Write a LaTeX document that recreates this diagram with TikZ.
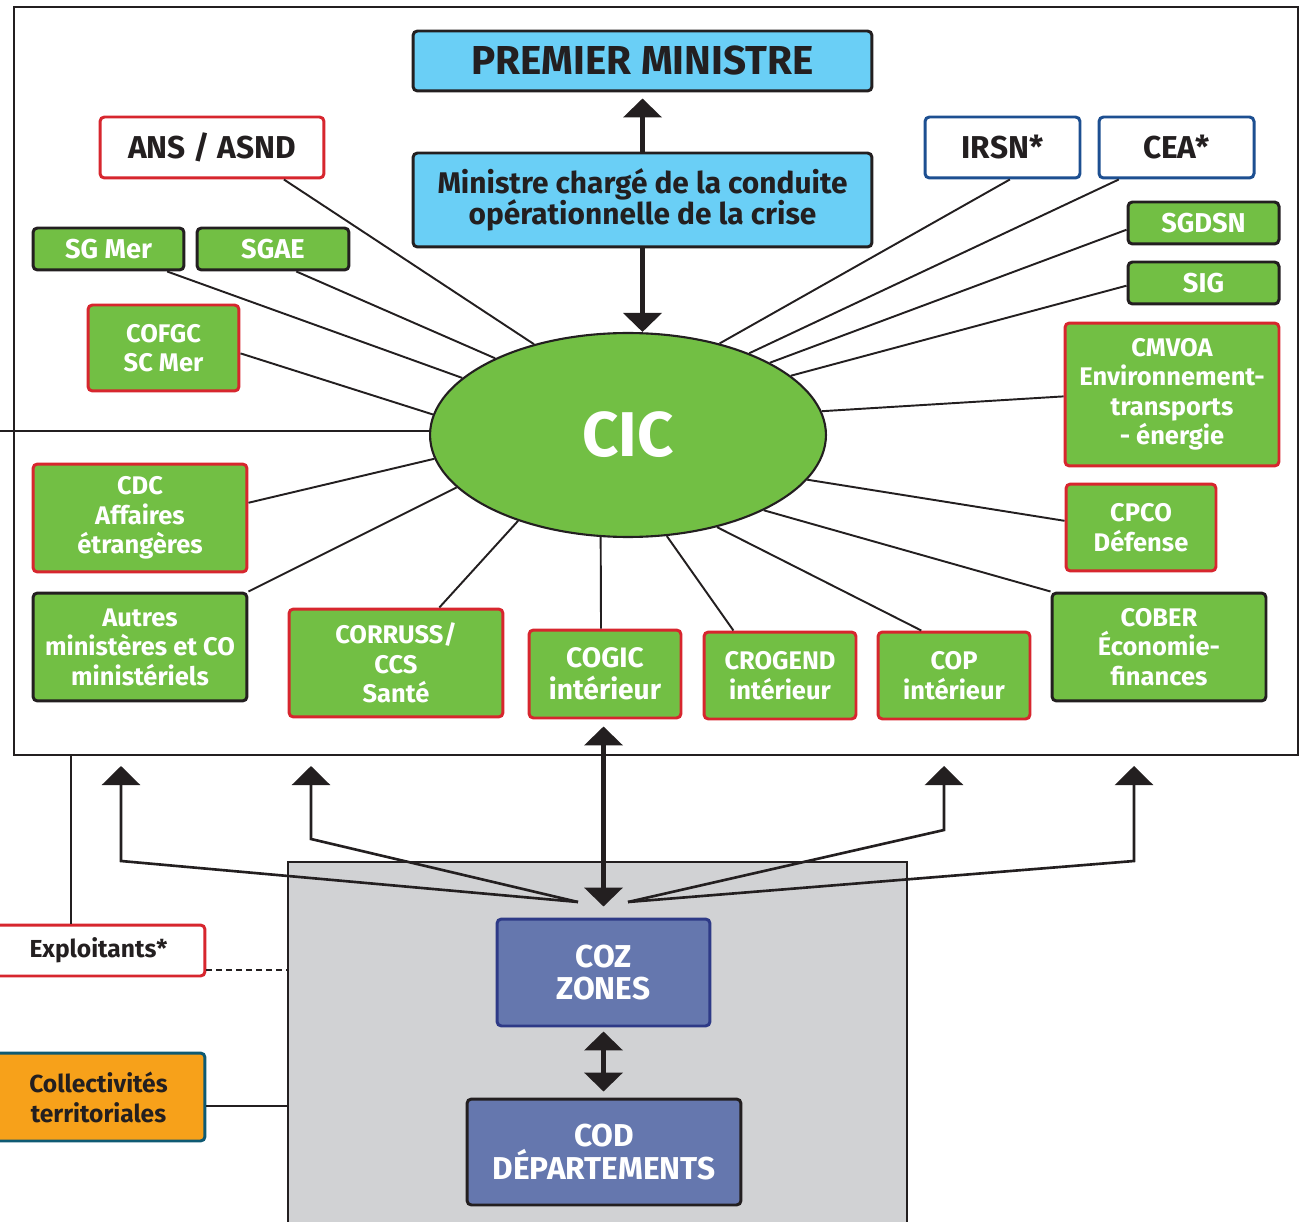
\documentclass[tikz,border=0pt]{standalone}
\usepackage{fontspec}
\setmainfont{Fira Sans}
\usepackage{tikz}
\usetikzlibrary{shapes,calc,positioning,arrows.meta}

\definecolor{ciel}{HTML}{6ACFF6}
\definecolor{vert}{HTML}{72BF44}
\definecolor{rouge}{HTML}{D7262E}
\definecolor{bleufonce}{HTML}{1D4F91}
\definecolor{noir}{HTML}{231F20}
\definecolor{ardoise}{HTML}{6577AE}
\definecolor{ardoisebord}{HTML}{2E3A87}
\definecolor{gris}{HTML}{D1D2D4}
\definecolor{orangec}{HTML}{F7A11A}
\definecolor{petrole}{HTML}{0E5A73}

\tikzset{
  org/.style={rounded corners=2.5pt, line width=1.7pt, inner sep=0pt, align=center,
    font=\bfseries\fontsize{14.5}{16.8}\selectfont},
  greenred/.style={org, fill=vert, draw=rouge, text=white},
  greenblack/.style={org, fill=vert, draw=noir, text=white},
  whitered/.style={org, fill=white, draw=rouge, text=noir},
  whiteblue/.style={org, fill=white, draw=bleufonce, text=noir},
  skybox/.style={org, fill=ciel, draw=noir, text=noir},
  slatebox/.style={org, fill=ardoise, text=white, font=\bfseries\fontsize{18}{18.5}\selectfont},
  spoke/.style={line width=1.1pt, draw=noir},
  bigarrow/.style={line width=2.5pt, draw=noir, -{Triangle[width=0.76cm,length=0.38cm]}},
  branch/.style={line width=1.5pt, draw=noir, -{Triangle[width=0.76cm,length=0.38cm]}}
}

\begin{document}
\begin{tikzpicture}[x=0.02cm,y=-0.02cm]
\useasboundingbox (0,0) rectangle (1307,1222);

% Outer frame and the grey zone/department block
\node[draw=noir, line width=1.2pt, minimum width=25.68cm, minimum height=14.96cm, inner sep=0pt] (cadre) at (656,381) {};
\node[draw=noir, fill=gris, line width=1.2pt, minimum width=12.38cm, minimum height=7.36cm, inner sep=0pt] (zonebox) at (597.5,1046) {};

% Government level
\node[skybox, minimum width=9.18cm, minimum height=1.2cm, font=\bfseries\fontsize{23}{26}\selectfont] (pm) at (642.5,61) {PREMIER MINISTRE};
\node[skybox, minimum width=9.18cm, minimum height=1.88cm, font=\bfseries\fontsize{17}{18}\selectfont] (ministre) at (642.5,200)
  {Ministre chargé de la conduite\\opérationnelle de la crise};

% Interministerial crisis cell
\node[ellipse, draw=noir, fill=vert, line width=1.2pt, minimum width=7.92cm, minimum height=4.08cm, inner sep=0pt,
  text=white, font=\bfseries\fontsize{36}{40}\selectfont] (cic) at (628,435) {CIC};

% Left side
\node[whitered, minimum width=4.48cm, minimum height=1.22cm, font=\bfseries\fontsize{18}{20}\selectfont] (ans) at (212,147.5) {ANS / ASND};
\node[greenblack, minimum width=3.02cm, minimum height=0.84cm, font=\bfseries\fontsize{15.5}{17}\selectfont] (sgmer) at (108.5,249) {SG Mer};
\node[greenblack, minimum width=3.04cm, minimum height=0.84cm, font=\bfseries\fontsize{15.5}{17}\selectfont] (sgae) at (273,249) {SGAE};
\node[greenred, minimum width=3.02cm, minimum height=1.72cm] (cofgc) at (163.5,348) {COFGC\\SC Mer};
\node[greenred, minimum width=4.28cm, minimum height=2.16cm] (cdc) at (140,518) {CDC\\Affaires\\étrangères};
\node[greenblack, minimum width=4.28cm, minimum height=2.16cm] (autres) at (140,647) {Autres\\ministères et CO\\ministériels};

% Right side
\node[whiteblue, minimum width=3.1cm, minimum height=1.22cm, font=\bfseries\fontsize{18}{20}\selectfont] (irsn) at (1002.5,147.5) {IRSN*};
\node[whiteblue, minimum width=3.1cm, minimum height=1.22cm, font=\bfseries\fontsize{18}{20}\selectfont] (cea) at (1176.5,147.5) {CEA*};
\node[greenblack, minimum width=3.02cm, minimum height=0.84cm, font=\bfseries\fontsize{15.5}{17}\selectfont] (sgdsn) at (1203.5,223) {SGDSN};
\node[greenblack, minimum width=3.02cm, minimum height=0.84cm, font=\bfseries\fontsize{15.5}{17}\selectfont] (sig) at (1203.5,283) {SIG};
\node[greenred, minimum width=4.28cm, minimum height=2.86cm] (cmvoa) at (1172,394.5) {CMVOA\\Environnement-\\transports\\- énergie};
\node[greenred, minimum width=3.0cm, minimum height=1.74cm] (cpco) at (1141,527.5) {CPCO\\Défense};
\node[greenblack, minimum width=4.28cm, minimum height=2.16cm] (cober) at (1159,647) {COBER\\Économie-\\finances};

% Bottom row
\node[greenred, minimum width=4.28cm, minimum height=2.16cm] (corruss) at (396,663) {CORRUSS/\\CCS\\Santé};
\node[greenred, minimum width=3.04cm, minimum height=1.76cm, font=\bfseries\fontsize{16}{18}\selectfont] (cogic) at (605,674) {COGIC\\intérieur};
\node[greenred, minimum width=3.04cm, minimum height=1.74cm] (crogend) at (780,675.5) {CROGEND\\intérieur};
\node[greenred, minimum width=3.04cm, minimum height=1.74cm] (cop) at (954,675.5) {COP\\intérieur};

% Zones, departments and partners
\node[slatebox, draw=ardoisebord, minimum width=4.26cm, minimum height=2.14cm] (coz) at (603.5,972.5) {COZ\\ZONES};
\node[slatebox, draw=noir, minimum width=5.48cm, minimum height=2.12cm] (cod) at (604,1152) {COD\\DÉPARTEMENTS};
\node[whitered, minimum width=4.26cm, minimum height=1.02cm, font=\bfseries\fontsize{14}{16}\selectfont] (expl) at (98.5,950.5) {Exploitants*};
\node[org, fill=orangec, draw=petrole, text=noir, minimum width=4.26cm, minimum height=1.76cm, font=\bfseries\fontsize{14}{17}\selectfont] (coll) at (98.5,1097) {Collectivités\\territoriales};

% Spokes to the CIC
\draw[spoke] (ans.336.8) -- (cic.136);
\draw[spoke] (sgmer.339.6) -- (cic.161.4);
\draw[spoke] (sgae.316.3) -- (cic.150.4);
\draw[spoke] (cofgc.356.2) -- (cic.174.2);
\draw[spoke] (cdc.8) -- (cic.187.4);
\draw[spoke] (autres.north east) -- (cic.197.3);
\draw[spoke] (corruss.52.8) -- (cic.218.9);
\draw[spoke] (cogic.95) -- (cic.255.2);
\draw[spoke] (crogend.136) -- (cic.291.8);
\draw[spoke] (cop.126.3) -- (cic.314);
\draw[spoke] (cober.north west) -- (cic.331.2);
\draw[spoke] (cpco.175.8) -- (cic.346.6);
\draw[spoke] (cmvoa.181.3) -- (cic.7.1);
\draw[spoke] (sig.182.3) -- (cic.20.3);
\draw[spoke] (sgdsn.185.3) -- (cic.27.2);
\draw[spoke] (cea.209.2) -- (cic.34.2);
\draw[spoke] (irsn.283.8) -- (cic.45);

% Line out of the frame on the left
\coordinate (bord) at (-5,431);
\draw[spoke] (bord) -- (bord -| cic.west);

% Vertical arrows
\draw[bigarrow, shorten >=0.12cm] (ministre.north) -- (pm.south);
\draw[bigarrow] (ministre.south) -- (ministre.south |- cic.north);
\draw[bigarrow, {Triangle[width=0.76cm,length=0.38cm]}-{Triangle[width=0.76cm,length=0.38cm]},
  shorten <=0.14cm, shorten >=0.22cm] (coz.north |- cogic.south) -- (coz.north);
\draw[bigarrow, {Triangle[width=0.76cm,length=0.38cm]}-{Triangle[width=0.76cm,length=0.38cm]},
  shorten <=0.08cm, shorten >=0.12cm] (coz.south) -- (coz.south |- cod.north);

% Branches from the zones back up to the ministries
\coordinate (brg) at (578,902);
\coordinate (brd) at (628,902);
\coordinate (t1) at (121,766);
\coordinate (t2) at (311,766);
\coordinate (t3) at (944,766);
\coordinate (t4) at (1134,766);
\draw[branch] (brg) -- (121,861) -- (t1);
\draw[branch] (brg) -- (311,839) -- (t2);
\draw[branch] (brd) -- (944,830) -- (t3);
\draw[branch] (brd) -- (1134,861) -- (t4);

% Partners
\coordinate (ex1) at (71,0);
\draw[spoke] (cadre.south -| ex1) -- (expl.north -| ex1);
\draw[spoke, dash pattern=on 0.12cm off 0.08cm] (expl.350.7) -- (expl.350.7 -| zonebox.west);
\draw[spoke] (coll.355.7) -- (coll.355.7 -| zonebox.west);
\end{tikzpicture}
\end{document}
